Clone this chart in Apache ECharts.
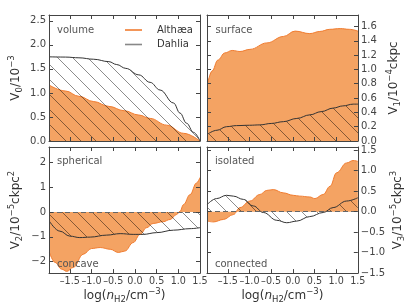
<!DOCTYPE html>
<html>
<head>
<meta charset="utf-8">
<script src="https://cdn.jsdelivr.net/npm/echarts@6/dist/echarts.min.js"></script>
<style>html,body{margin:0;padding:0;background:#fff}#c{width:407px;height:305px}</style>
</head>
<body>
<div id="c"></div>
<script>
// ---------- data ----------
const seriesNames = ['Althæa', 'Dahlia'];
const xTicks = [-1.5, -1.0, -0.5, 0.0, 0.5, 1.0, 1.5];
const v0Ticks = [0, 0.5, 1.0, 1.5, 2.0, 2.5];
const v1Ticks = [0, 0.2, 0.4, 0.6, 0.8, 1.0, 1.2, 1.4, 1.6];
const v2Ticks = [-2, -1, 0, 1, 2];
const v3Ticks = [-1.5, -1.0, -0.5, 0.0, 0.5, 1.0, 1.5];
const panelLabels = ['volume', 'surface', 'spherical', 'concave', 'isolated', 'connected'];

// V0 (volume)
const v0AlthX = [-1.97, -1.6, -1.29, -0.95, -0.6, -0.25, 0.09, 0.35, 0.73, 1.12, 1.5];
const v0AlthY = [1.16, 1.04, 0.93, 0.82, 0.72, 0.63, 0.54, 0.47, 0.33, 0.16, 0.0];
const v0DahlX = [-1.97, -1.6, -1.29, -0.95, -0.6, -0.42, -0.21, 0.09, 0.35, 0.58, 0.89, 1.04, 1.19, 1.35, 1.5];
const v0DahlY = [1.75, 1.745, 1.73, 1.70, 1.65, 1.59, 1.51, 1.375, 1.22, 1.06, 0.79, 0.58, 0.37, 0.18, 0.0];

// V1 (surface)
const v1AlthX = [-1.97, -1.86, -1.73, -1.57, -1.4, -1.22, -0.99, -0.6, -0.22, 0.05, 0.39, 0.62, 0.85, 1.09, 1.3, 1.5];
const v1AlthY = [0.79, 0.98, 1.13, 1.23, 1.265, 1.25, 1.28, 1.37, 1.46, 1.535, 1.50, 1.53, 1.56, 1.57, 1.56, 1.535];
const v1DahlX = [-1.97, -1.75, -1.53, -1.3, -1.0, -0.76, -0.5, -0.22, 0.09, 0.39, 0.65, 0.93, 1.15, 1.39, 1.5];
const v1DahlY = [0.094, 0.15, 0.20, 0.215, 0.22, 0.225, 0.245, 0.27, 0.315, 0.365, 0.41, 0.46, 0.49, 0.515, 0.515];

// V2 (spherical / concave)
const v2AlthX = [-1.97, -1.84, -1.69, -1.57, -1.42, -1.19, -1.0, -0.8, -0.57, -0.38, -0.23, -0.04, 0.12, 0.27, 0.42, 0.65, 0.81, 0.96, 1.04, 1.12, 1.27, 1.42, 1.5];
const v2AlthY = [-1.63, -2.03, -2.3, -2.39, -2.23, -1.7, -1.47, -1.43, -1.5, -1.63, -1.57, -1.23, -0.9, -0.63, -0.46, -0.39, -0.3, -0.1, 0.03, 0.3, 0.7, 1.17, 1.39];
const v2DahlX = [-1.97, -1.73, -1.5, -1.27, -1.03, -0.65, -0.34, -0.04, 0.19, 0.5, 0.89, 1.27, 1.5];
const v2DahlY = [-0.37, -0.77, -0.97, -1.03, -1.01, -0.93, -0.87, -0.9, -0.9, -0.83, -0.73, -0.67, -0.63];

// V3 (isolated / connected)
const v3AlthX = [-1.97, -1.83, -1.6, -1.37, -1.22, -0.99, -0.76, -0.6, -0.45, -0.22, 0.01, 0.16, 0.39, 0.51, 0.7, 0.86, 1.01, 1.24, 1.39, 1.5];
const v3AlthY = [-0.23, -0.25, -0.19, -0.07, 0.1, 0.26, 0.42, 0.52, 0.54, 0.46, 0.4, 0.38, 0.36, 0.32, 0.42, 0.62, 0.95, 1.19, 1.25, 1.23];
const v3DahlX = [-1.97, -1.76, -1.53, -1.37, -1.14, -0.91, -0.68, -0.37, -0.14, 0.09, 0.39, 0.7, 0.93, 1.24, 1.5];
const v3DahlY = [0.18, 0.32, 0.40, 0.38, 0.30, 0.14, -0.02, -0.21, -0.27, -0.23, -0.12, -0.02, 0.10, 0.26, 0.34];

// ---------- style ----------
const FONT = 'DejaVu Sans';
const ORANGE_FILL = '#f4a363';
const ORANGE_LINE = '#f07c30';
const DARK = '#333333';
const SPINE = '#444444';
const X_MIN = -1.98, X_MAX = 1.5;

function hatch() {
  const s = 15;
  const cv = document.createElement('canvas');
  cv.width = s; cv.height = s;
  const ctx = cv.getContext('2d');
  ctx.strokeStyle = 'rgba(0,0,0,0.45)';
  ctx.lineWidth = 1;
  for (const k of [-s, 0, s]) {
    ctx.beginPath();
    ctx.moveTo(k, 0);
    ctx.lineTo(k + s, s);
    ctx.stroke();
  }
  return cv;
}
const hatchImg = hatch();

const zip = (xs, ys) => xs.map((x, i) => [x, ys[i]]);
const minus = s => s.replace('-', '\u2212');
const dash = s => s.replace('-', '\u2013');

const grids = [
  {left: 49, top: 15, width: 151, height: 126},
  {left: 207, top: 15, width: 151, height: 126},
  {left: 49, top: 147, width: 151, height: 127},
  {left: 207, top: 147, width: 151, height: 127}
];

const richName = {
  a: {fontSize: 12, fontFamily: FONT, color: '#333', lineHeight: 17, verticalAlign: 'middle'},
  n: {fontSize: 12, fontFamily: FONT, color: '#333', fontStyle: 'italic', lineHeight: 17, verticalAlign: 'middle'},
  s: {fontSize: 8.5, fontFamily: FONT, color: '#333', lineHeight: 10, verticalAlign: 'bottom'},
  p: {fontSize: 8.5, fontFamily: FONT, color: '#333', lineHeight: 10, verticalAlign: 'top'}
};

const yCfg = [
  {min: 0, max: 2.62, ticks: v0Ticks, fmt: v => v.toFixed(1), name: '{a|V}{s|0}{a|/10}{p|\u22123}', side: 'left', gap: 25},
  {min: 0, max: 1.76, ticks: v1Ticks, fmt: v => v.toFixed(1), name: '{a|V}{s|1}{a|/10}{p|\u22124}{a|ckpc}', side: 'right', gap: 27},
  {min: -2.46, max: 2.62, ticks: v2Ticks, fmt: v => minus(String(Math.round(v))), name: '{a|V}{s|2}{a|/10}{p|\u22125}{a|ckpc}{p|2}', side: 'left', gap: 25},
  {min: -1.5, max: 1.58, ticks: v3Ticks, fmt: v => minus(v.toFixed(1)), name: '{a|V}{s|3}{a|/10}{p|\u22125}{a|ckpc}{p|3}', side: 'right', gap: 29}
];

const axisLine = {show: true, onZero: false, lineStyle: {color: SPINE, width: 1}};
const tickStyle = (vals) => ({show: true, inside: true, length: 4, customValues: vals, lineStyle: {color: SPINE, width: 1}});

const xAxes = [], yAxes = [];
grids.forEach((g, i) => {
  const bottomRow = i >= 2;
  xAxes.push({
    type: 'value', gridIndex: i, min: X_MIN, max: X_MAX, position: 'bottom', z: 10,
    axisLine, axisTick: tickStyle(xTicks), splitLine: {show: false},
    axisLabel: {show: bottomRow, customValues: xTicks, formatter: v => dash(v.toFixed(1)),
      hideOverlap: false, showMinLabel: true, showMaxLabel: true,
      fontFamily: FONT, fontSize: 9.6, color: '#444', margin: 3},
    name: bottomRow ? '{a|log(}{n|n}{s|H2}{a|/cm}{p|\u22123}{a|)}' : '',
    nameLocation: 'middle', nameGap: 12,
    nameTextStyle: {fontFamily: FONT, color: '#333', rich: richName}
  });
  xAxes.push({
    type: 'value', gridIndex: i, min: X_MIN, max: X_MAX, position: 'top', z: 10,
    axisLine, axisTick: tickStyle(xTicks), axisLabel: {show: false}, splitLine: {show: false}
  });
  const c = yCfg[i];
  yAxes.push({
    type: 'value', gridIndex: i, min: c.min, max: c.max, position: c.side, z: 10,
    axisLine, axisTick: tickStyle(c.ticks), splitLine: {show: false},
    axisLabel: {customValues: c.ticks, formatter: c.fmt, hideOverlap: false, showMinLabel: true, showMaxLabel: true,
      fontFamily: FONT, fontSize: 10, color: '#444', margin: 3},
    name: c.name, nameLocation: 'middle', nameRotate: 90, nameGap: c.gap,
    nameTextStyle: {fontFamily: FONT, color: '#333', rich: richName}
  });
  yAxes.push({
    type: 'value', gridIndex: i, min: c.min, max: c.max, position: c.side === 'left' ? 'right' : 'left', z: 10,
    axisLine, axisTick: tickStyle(c.ticks), axisLabel: {show: false}, splitLine: {show: false}
  });
});

const panelData = [
  [zip(v0AlthX, v0AlthY), zip(v0DahlX, v0DahlY)],
  [zip(v1AlthX, v1AlthY), zip(v1DahlX, v1DahlY)],
  [zip(v2AlthX, v2AlthY), zip(v2DahlX, v2DahlY)],
  [zip(v3AlthX, v3AlthY), zip(v3DahlX, v3DahlY)]
];

const series = [];
panelData.forEach((pd, i) => {
  series.push({
    name: seriesNames[0], type: 'line', xAxisIndex: 2 * i, yAxisIndex: 2 * i,
    data: pd[0], smooth: 0.4, smoothMonotone: 'x', symbol: 'none', z: 2,
    itemStyle: {color: ORANGE_LINE},
    lineStyle: {color: ORANGE_LINE, width: 1},
    areaStyle: {color: ORANGE_FILL, opacity: 1, origin: 'auto'},
    silent: true, animation: false
  });
  const d = {
    name: seriesNames[1], type: 'line', xAxisIndex: 2 * i, yAxisIndex: 2 * i,
    data: pd[1], smooth: 0.4, smoothMonotone: 'x', symbol: 'none', z: 3,
    itemStyle: {color: DARK},
    lineStyle: {color: DARK, width: 1},
    areaStyle: {color: {image: hatchImg, repeat: 'repeat'}, opacity: 1, origin: 'auto'},
    silent: true, animation: false
  };
  if (i >= 2) {
    d.markLine = {
      silent: true, symbol: 'none', animation: false,
      label: {show: false},
      lineStyle: {color: '#666', width: 1, type: [5, 3]},
      data: [{yAxis: 0}]
    };
  }
  series.push(d);
});

const lab = (t, x, y) => ({type: 'text', x, y, z: 100,
  style: {text: t, fill: '#555', fontFamily: FONT, fontSize: 10, verticalAlign: 'middle', align: 'left'}});

const option = {
  animation: false,
  grid: grids,
  xAxis: xAxes,
  yAxis: yAxes,
  series,
  legend: {
    left: 125, top: 24, orient: 'vertical', padding: 0, itemGap: 2.5,
    itemWidth: 17, itemHeight: 1.6,
    textStyle: {fontFamily: FONT, fontSize: 10, color: '#333', lineHeight: 12, padding: [0, 0, 0, 10]},
    data: [
      {name: seriesNames[0], icon: 'rect', itemStyle: {color: ORANGE_LINE}},
      {name: seriesNames[1], icon: 'rect', itemStyle: {color: '#888'}}
    ]
  },
  graphic: [
    lab(panelLabels[0], 57, 30),
    lab(panelLabels[1], 215.5, 30),
    lab(panelLabels[2], 57, 161),
    lab(panelLabels[3], 57, 264),
    lab(panelLabels[4], 215, 161),
    lab(panelLabels[5], 215, 264)
  ]
};

const chart = echarts.init(document.getElementById('c'), null, {renderer: 'canvas'});
chart.setOption(option);
</script>
</body>
</html>
